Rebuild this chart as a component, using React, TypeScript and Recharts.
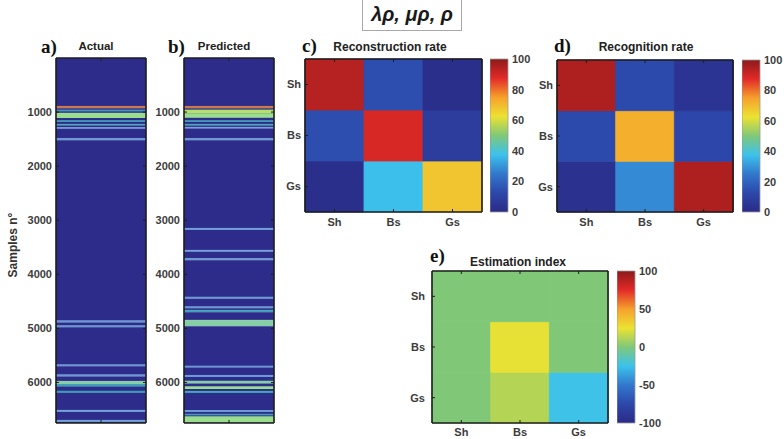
import React from 'react';
import { BarChart, Bar, Cell, XAxis, YAxis } from 'recharts';

// ---------- data ----------
const SAMPLE_MAX = 6750;
const sampleTicks = [1000, 2000, 3000, 4000, 5000, 6000];
const classes = ['Sh', 'Bs', 'Gs'];

// [start sample, end sample, class colour]
const actualBands: [number, number, string][] = [
  [895, 930, 'orange'],
  [960, 985, 'teal'],
  [1020, 1110, 'green'],
  [1160, 1185, 'teal'],
  [1225, 1250, 'teal'],
  [1285, 1310, 'lightblue'],
  [1490, 1520, 'lightblue'],
  [4860, 4890, 'lightblue'],
  [4950, 4980, 'lightblue'],
  [5675, 5700, 'lightblue'],
  [5860, 5890, 'lightblue'],
  [5980, 6030, 'paleGreen'],
  [6040, 6075, 'teal'],
  [6160, 6190, 'teal'],
  [6515, 6545, 'lightblue'],
  [6700, 6730, 'lightblue'],
];

const predictedBands: [number, number, string][] = [
  [895, 930, 'orange'],
  [960, 1020, 'yellowGreen'],
  [1030, 1105, 'green'],
  [1160, 1185, 'teal'],
  [1225, 1250, 'teal'],
  [1280, 1305, 'lightblue'],
  [1490, 1520, 'lightblue'],
  [3150, 3180, 'lightblue'],
  [3555, 3585, 'lightblue'],
  [3710, 3740, 'lightblue'],
  [4420, 4450, 'lightblue'],
  [4600, 4630, 'lightblue'],
  [4665, 4700, 'teal'],
  [4850, 4960, 'paleGreen'],
  [5695, 5725, 'lightblue'],
  [5870, 5900, 'lightblue'],
  [5975, 6020, 'paleGreen'],
  [6080, 6120, 'green'],
  [6165, 6195, 'teal'],
  [6520, 6545, 'lightblue'],
  [6585, 6605, 'teal'],
  [6635, 6740, 'green'],
];

// rows: Sh, Bs, Gs ; columns: Sh, Bs, Gs
const reconstructionRate = [
  [94, 14, 2],
  [14, 89, 8],
  [2, 37, 68],
];
const recognitionRate = [
  [95, 13, 4],
  [13, 72, 12],
  [3, 28, 95],
];
const estimationIndex = [
  [0, 0, 0],
  [0, 24, 0],
  [0, 12, -24],
];

const rateTicks = [0, 20, 40, 60, 80, 100];
const indexTicks = [-100, -50, 0, 50, 100];

// ---------- styles ----------
const FONT = '"Liberation Sans", Arial, sans-serif';
const SERIF = '"Liberation Serif", "Times New Roman", serif';
const tickStyle = { fontSize: 11, fill: '#3c3c3c', fontWeight: 700, fontFamily: FONT };
const BOX = '#1c1c1c';

const stripColors: Record<string, string> = {
  bg: '#2e2c8a',
  orange: '#d3763c',
  yellowGreen: '#b6e06a',
  green: '#98de8c',
  paleGreen: '#86cfa6',
  teal: '#3aa0b6',
  lightblue: '#6a9ad6',
};

const jetStops: [number, string][] = [
  [0, '#2b2a86'],
  [0.125, '#2c48aa'],
  [0.25, '#3278cc'],
  [0.375, '#3cc2ec'],
  [0.5, '#80c878'],
  [0.625, '#ece232'],
  [0.75, '#f6a02c'],
  [0.875, '#e22a28'],
  [1, '#8c1a1a'],
];

function hexToRgb(h: string) {
  return [1, 3, 5].map((i) => parseInt(h.slice(i, i + 2), 16));
}
function colormap(t: number) {
  const v = Math.max(0, Math.min(1, t));
  for (let i = 0; i < jetStops.length - 1; i++) {
    const [t0, c0] = jetStops[i];
    const [t1, c1] = jetStops[i + 1];
    if (v <= t1) {
      const f = (v - t0) / (t1 - t0);
      const a = hexToRgb(c0);
      const b = hexToRgb(c1);
      const c = a.map((x, k) => Math.round(x + (b[k] - x) * f));
      return `rgb(${c[0]},${c[1]},${c[2]})`;
    }
  }
  return jetStops[jetStops.length - 1][1];
}

// split the sample range into consecutive segments (background gaps + bands)
function toSegments(bands: [number, number, string][]) {
  const segs: { len: number; color: string }[] = [];
  let cur = 0;
  bands.forEach(([s, e, c]) => {
    if (s > cur) segs.push({ len: s - cur, color: 'bg' });
    segs.push({ len: e - s, color: c });
    cur = e;
  });
  if (cur < SAMPLE_MAX) segs.push({ len: SAMPLE_MAX - cur, color: 'bg' });
  return segs;
}

// ---------- components ----------
function Strip({ bands, plotX, plotY }: { bands: [number, number, string][]; plotX: number; plotY: number }) {
  const PW = 90, PH = 365, LW = 52, M = 10;
  const segs = toSegments(bands);
  const row: Record<string, any> = { name: 'strip' };
  segs.forEach((s, i) => { row[`seg${i}`] = s.len; });
  return (
    <div style={{ position: 'absolute', left: plotX - LW, top: plotY - M - 1 }}>
      <BarChart width={LW + PW + 1 + M} height={M + 1 + PH + 1 + M} data={[row]}
        margin={{ top: M, right: M, bottom: M, left: 0 }} barCategoryGap={0} barGap={0}>
        {segs.map((s, i) => (
          <Bar key={i} dataKey={`seg${i}`} stackId="s" xAxisId="b" yAxisId="l" fill={stripColors[s.color]}
            stroke={stripColors[s.color]} strokeWidth={s.color === 'bg' ? 0 : 0.6} isAnimationActive={false} />
        ))}
        <XAxis xAxisId="b" dataKey="name" height={1} tickSize={-3}
          tickFormatter={() => ''} axisLine={{ stroke: BOX, strokeWidth: 1.6 }} tickLine={{ stroke: BOX }} />
        <XAxis xAxisId="t" dataKey="name" orientation="top" height={1} tickSize={-3}
          tickFormatter={() => ''} axisLine={{ stroke: BOX, strokeWidth: 1.6 }} tickLine={{ stroke: BOX }} />
        <YAxis yAxisId="l" type="number" domain={[0, SAMPLE_MAX]} allowDataOverflow reversed ticks={sampleTicks} width={LW}
          tickSize={-3} tickMargin={7} tick={tickStyle} axisLine={{ stroke: BOX, strokeWidth: 1.6 }} tickLine={{ stroke: BOX }} />
        <YAxis yAxisId="r" orientation="right" type="number" domain={[0, SAMPLE_MAX]} allowDataOverflow reversed ticks={sampleTicks} width={1}
          tickSize={-3} tickFormatter={() => ''} axisLine={{ stroke: BOX, strokeWidth: 1.6 }} tickLine={{ stroke: BOX }} />
      </BarChart>
    </div>
  );
}

function Heatmap({ matrix, lo, hi, plotX, plotY, pw, ph, leftMargin, bottomMargin }: {
  matrix: number[][]; lo: number; hi: number; plotX: number; plotY: number; pw: number; ph: number; leftMargin: number; bottomMargin: number;
}) {
  const LW = 34, BH = 26, M = 10;
  const data = classes.map((c) => {
    const d: Record<string, any> = { col: c };
    classes.forEach((r) => { d[r] = 1; });
    return d;
  });
  const rowTicks = classes.map((_, i) => classes.length - i - 0.5);
  const rowLabel = (v: number) => classes[classes.length - 1 - Math.floor(v)];
  const stackOrder = [...classes].reverse();
  return (
    <div style={{ position: 'absolute', left: plotX - LW, top: plotY - M - 1 }}>
      <BarChart width={LW + pw + 1 + M} height={M + 1 + ph + BH} data={data}
        margin={{ top: M, right: M, bottom: 0, left: 0 }} barCategoryGap={0} barGap={0}>
        {stackOrder.map((r) => (
          <Bar key={r} dataKey={r} stackId="s" xAxisId="b" yAxisId="l" isAnimationActive={false}>
            {classes.map((c, j) => {
              const col = colormap((matrix[classes.indexOf(r)][j] - lo) / (hi - lo));
              return <Cell key={c} fill={col} stroke={col} strokeWidth={0.8} />;
            })}
          </Bar>
        ))}
        <XAxis xAxisId="b" dataKey="col" height={BH} tickSize={-3} tickMargin={bottomMargin} tick={tickStyle}
          axisLine={{ stroke: BOX, strokeWidth: 1.6 }} tickLine={{ stroke: BOX }} />
        <XAxis xAxisId="t" dataKey="col" orientation="top" height={1} tickSize={-3} tickFormatter={() => ''}
          axisLine={{ stroke: BOX, strokeWidth: 1.6 }} tickLine={{ stroke: BOX }} />
        <YAxis yAxisId="l" type="number" domain={[0, 3]} ticks={rowTicks} tickFormatter={rowLabel} width={LW}
          tickSize={-3} tickMargin={leftMargin} tick={tickStyle} axisLine={{ stroke: BOX, strokeWidth: 1.6 }} tickLine={{ stroke: BOX }} />
        <YAxis yAxisId="r" orientation="right" type="number" domain={[0, 3]} ticks={rowTicks} width={1}
          tickSize={-3} tickFormatter={() => ''} axisLine={{ stroke: BOX, strokeWidth: 1.6 }} tickLine={{ stroke: BOX }} />
      </BarChart>
    </div>
  );
}

function Colorbar({ lo, hi, ticks, plotX, plotY, h, id }: { lo: number; hi: number; ticks: number[]; plotX: number; plotY: number; h: number; id: string }) {
  const W = 18, RW = 34, M = 10;
  const data = [{ name: 'cb', range: [lo, hi] }];
  return (
    <div style={{ position: 'absolute', left: plotX, top: plotY - M }}>
      <BarChart width={W + RW} height={M + h + M} data={data} margin={{ top: M, right: 0, bottom: M, left: 0 }} barCategoryGap={0} barGap={0}>
        <defs>
          <linearGradient id={id} x1="0" y1="1" x2="0" y2="0">
            {jetStops.map(([t, c]) => (
              <stop key={t} offset={`${t * 100}%`} stopColor={c} />
            ))}
          </linearGradient>
        </defs>
        <XAxis dataKey="name" hide />
        <YAxis orientation="right" type="number" domain={[lo, hi]} ticks={ticks} width={RW} tickSize={0} tickMargin={4}
          axisLine={false} tickLine={false} tick={tickStyle} interval={0} />
        <Bar dataKey="range" fill={`url(#${id})`} stroke="#9a9a9a" strokeWidth={0.8} isAnimationActive={false} />
      </BarChart>
    </div>
  );
}

function Label({ x, y, text, size = 12, serif = false, anchor = 'middle' }: { x: number; y: number; text: string; size?: number; serif?: boolean; anchor?: string }) {
  const tx = anchor === 'middle' ? '-50%' : '0';
  return (
    <div style={{
      position: 'absolute', left: x, top: y, transform: `translate(${tx}, -50%)`, whiteSpace: 'nowrap',
      fontFamily: serif ? SERIF : FONT, fontWeight: 700, fontSize: size, color: serif ? '#111' : '#222', lineHeight: 1,
    }}>{text}</div>
  );
}

export default function App() {
  return (
    <div style={{ position: 'absolute', left: 0, top: 0, width: 784, height: 439, background: '#fff', overflow: 'hidden' }}>
      <Strip bands={actualBands} plotX={56} plotY={58} />
      <Strip bands={predictedBands} plotX={184} plotY={58} />

      <Heatmap matrix={reconstructionRate} lo={0} hi={100} plotX={305} plotY={59} pw={177} ph={153} leftMargin={7} bottomMargin={9} />
      <Colorbar lo={0} hi={100} ticks={rateTicks} plotX={490} plotY={59} h={153} id="cbc" />

      <Heatmap matrix={recognitionRate} lo={0} hi={100} plotX={557} plotY={60} pw={176} ph={152} leftMargin={7} bottomMargin={9} />
      <Colorbar lo={0} hi={100} ticks={rateTicks} plotX={742} plotY={60} h={152} id="cbd" />

      <Heatmap matrix={estimationIndex} lo={-100} hi={100} plotX={432} plotY={271} pw={176} ph={152} leftMargin={10} bottomMargin={8} />
      <Colorbar lo={-100} hi={100} ticks={indexTicks} plotX={617} plotY={271} h={152} id="cbe" />

      {/* panel labels and titles */}
      <Label x={41} y={46} text="a)" size={19} serif anchor="start" />
      <Label x={96} y={47} text="Actual" size={11.5} />
      <Label x={168} y={46} text="b)" size={19} serif anchor="start" />
      <Label x={224} y={47} text="Predicted" size={11.5} />
      <Label x={302} y={45} text="c)" size={19} serif anchor="start" />
      <Label x={390} y={47} text="Reconstruction rate" size={12} />
      <Label x={554} y={45} text="d)" size={19} serif anchor="start" />
      <Label x={646} y={47} text="Recognition rate" size={12} />
      <Label x={430} y={255} text="e)" size={19} serif anchor="start" />
      <Label x={518} y={262} text="Estimation index" size={12} />

      <div style={{
        position: 'absolute', left: 13, top: 245, transform: 'translate(-50%, -50%) rotate(-90deg)', whiteSpace: 'nowrap',
        fontFamily: FONT, fontWeight: 700, fontSize: 12, color: '#333', lineHeight: 1,
      }}>Samples n°</div>

      <div style={{
        position: 'absolute', left: 362, top: -2, width: 100, height: 33, border: '1px solid #a8a8a8', background: '#fff',
        display: 'flex', alignItems: 'center', justifyContent: 'center', boxSizing: 'border-box',
        fontFamily: FONT, fontWeight: 700, fontStyle: 'italic', fontSize: 20, color: '#1a1a1a',
      }}>λρ, μρ, ρ</div>
    </div>
  );
}
